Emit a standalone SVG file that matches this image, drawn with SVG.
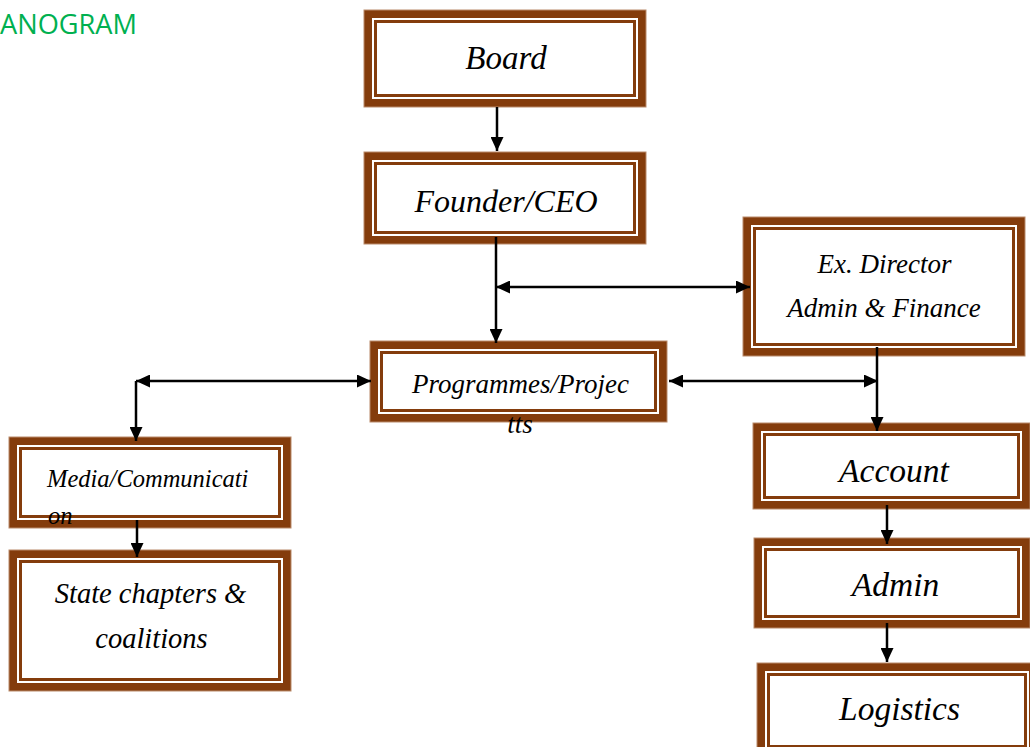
<svg xmlns="http://www.w3.org/2000/svg" width="1030" height="747" viewBox="0 0 1030 747">
<style>
.o{fill:#843C0C;stroke:#b98a6a;stroke-width:1}
.w{fill:none;stroke:#ffffff;stroke-width:2}
.i{fill:#ffffff}
.t{font-family:"Liberation Serif","Times New Roman",serif;font-style:italic;fill:#000;text-anchor:middle}
.c{fill:none;stroke:#000;stroke-width:2.5}
</style>
<defs>
<marker id="ah" markerUnits="userSpaceOnUse" markerWidth="14" markerHeight="13" viewBox="0 0 14 13" refX="14" refY="6.5" orient="auto-start-reverse">
<path d="M0,0 L14,6.5 L0,13 z" fill="#000"/>
</marker>
</defs>
<rect width="1030" height="747" fill="#ffffff"/>
<text x="0" y="34" font-family="Open Sans, Liberation Sans, sans-serif" font-size="28" fill="#00B050" textLength="137" lengthAdjust="spacingAndGlyphs">ANOGRAM</text>

<g id="board">
<rect class="o" x="364" y="10" width="282" height="97"/>
<rect class="w" x="373" y="19" width="264" height="79"/>
<rect class="i" x="377" y="23" width="256" height="71"/>
<text class="t" x="506" y="69" font-size="33">Board</text>
</g>
<g id="founder">
<rect class="o" x="364" y="152" width="282" height="92"/>
<rect class="w" x="373" y="161" width="264" height="74"/>
<rect class="i" x="377" y="165" width="256" height="66"/>
<text class="t" x="506" y="212" font-size="32">Founder/CEO</text>
</g>
<g id="exdirector">
<rect class="o" x="743" y="217" width="282" height="139"/>
<rect class="w" x="752" y="226" width="264" height="121"/>
<rect class="i" x="756" y="230" width="256" height="113"/>
<text class="t" x="884.5" y="273" font-size="27">Ex. Director</text>
<text class="t" x="884" y="317" font-size="27">Admin &amp; Finance</text>
</g>
<g id="programmes">
<rect class="o" x="370" y="341" width="297" height="81"/>
<rect class="w" x="379" y="350" width="279" height="63"/>
<rect class="i" x="383" y="354" width="271" height="55"/>
<text class="t" x="520.5" y="393" font-size="27">Programmes/Projec</text>
<text class="t" x="520" y="433" font-size="27">tts</text>
</g>
<g id="media">
<rect class="o" x="9" y="437" width="282" height="91"/>
<rect class="w" x="18" y="446" width="264" height="73"/>
<rect class="i" x="22" y="450" width="256" height="65"/>
<text class="t" x="47" y="487" font-size="24.5" style="text-anchor:start">Media/Communicati</text>
<text class="t" x="48" y="524" font-size="24.5" style="text-anchor:start">on</text>
</g>
<g id="state">
<rect class="o" x="9" y="550" width="282" height="141"/>
<rect class="w" x="18" y="559" width="264" height="123"/>
<rect class="i" x="22" y="563" width="256" height="115"/>
<text class="t" x="150.5" y="603" font-size="28.5">State chapters &amp;</text>
<text class="t" x="151.5" y="648" font-size="28.5">coalitions</text>
</g>
<g id="account">
<rect class="o" x="753" y="423" width="277" height="86"/>
<rect class="w" x="762" y="432" width="259" height="68"/>
<rect class="i" x="766" y="436" width="251" height="60"/>
<text class="t" x="894" y="482" font-size="33.5">Account</text>
</g>
<g id="admin">
<rect class="o" x="754" y="538" width="276" height="90"/>
<rect class="w" x="763" y="547" width="258" height="72"/>
<rect class="i" x="767" y="551" width="250" height="64"/>
<text class="t" x="895.5" y="596" font-size="33.5">Admin</text>
</g>
<g id="logistics">
<rect class="o" x="757" y="663" width="280" height="95"/>
<rect class="w" x="766" y="672" width="262" height="77"/>
<rect class="i" x="770" y="676" width="254" height="69"/>
<text class="t" x="899.5" y="720" font-size="33.5">Logistics</text>
</g>

<g id="connectors">
<path class="c" d="M497,107 V151" marker-end="url(#ah)"/>
<path class="c" d="M496,237 V343" marker-end="url(#ah)"/>
<path class="c" d="M496,287 H750" marker-start="url(#ah)" marker-end="url(#ah)"/>
<path class="c" d="M136,381 H371" marker-start="url(#ah)" marker-end="url(#ah)"/>
<path class="c" d="M136,381 V441" marker-end="url(#ah)"/>
<path class="c" d="M669,381 H878" marker-start="url(#ah)" marker-end="url(#ah)"/>
<path class="c" d="M877,347 V431" marker-end="url(#ah)"/>
<path class="c" d="M887,505 V544" marker-end="url(#ah)"/>
<path class="c" d="M887,623 V662" marker-end="url(#ah)"/>
<path class="c" d="M137,520 V557" marker-end="url(#ah)"/>
</g>
</svg>
